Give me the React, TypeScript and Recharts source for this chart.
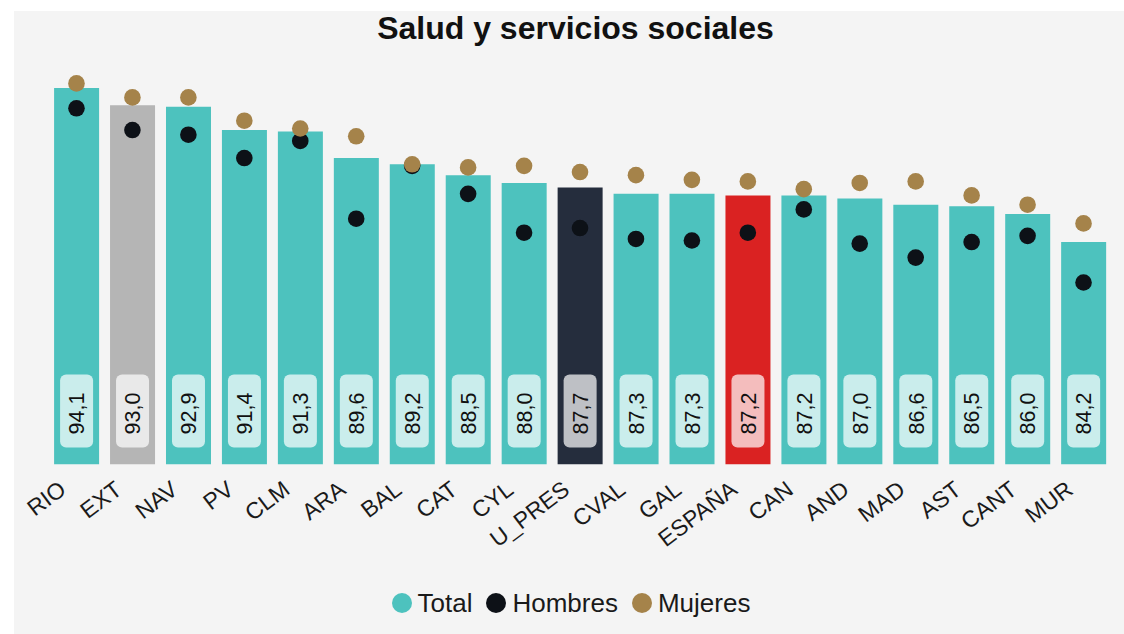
import React from 'react';
import { ComposedChart, Bar, Line, XAxis, YAxis, Cell, LabelList, Legend } from 'recharts';

const categories = ['RIO', 'EXT', 'NAV', 'PV', 'CLM', 'ARA', 'BAL', 'CAT', 'CYL', 'U_PRES', 'CVAL', 'GAL', 'ESPAÑA', 'CAN', 'AND', 'MAD', 'AST', 'CANT', 'MUR'];
const totalValues = [94.1, 93.0, 92.9, 91.4, 91.3, 89.6, 89.2, 88.5, 88.0, 87.7, 87.3, 87.3, 87.2, 87.2, 87.0, 86.6, 86.5, 86.0, 84.2];
const hombresValues = [92.8, 91.4, 91.1, 89.6, 90.7, 85.7, 89.1, 87.3, 84.8, 85.1, 84.4, 84.3, 84.8, 86.3, 84.1, 83.2, 84.2, 84.6, 81.6];
const mujeresValues = [94.4, 93.5, 93.5, 92.0, 91.5, 91.0, 89.2, 89.0, 89.1, 88.7, 88.5, 88.2, 88.1, 87.6, 88.0, 88.1, 87.2, 86.6, 85.4];
const seriesNames = ['Total', 'Hombres', 'Mujeres'];
const title = 'Salud y servicios sociales';

const FONT = '"Liberation Sans", Arial, sans-serif';
const TEAL = '#4dc2be';
const BLACK = '#0d1117';
const GOLD = '#a5834a';
const BG = '#f4f4f4';

const barColor = (cat: string) => {
  if (cat === 'EXT') return '#b5b5b5';
  if (cat === 'U_PRES') return '#252d3d';
  if (cat === 'ESPAÑA') return '#da2222';
  return TEAL;
};

const data = categories.map((c, i) => ({
  name: c,
  total: totalValues[i],
  hombres: hombresValues[i],
  mujeres: mujeresValues[i],
}));

const fmt = (v: number) => v.toFixed(1).replace('.', ',');

const ValueLabel = (props: any) => {
  const { x, y, width, height, value } = props;
  const bottom = y + height;
  const cx = x + width / 2;
  const cy = bottom - 51;
  return (
    <g>
      <rect x={x + 6} y={bottom - 90} width={width - 12} height={73} rx={6} ry={6} fill="rgba(255,255,255,0.7)" />
      <text
        x={cx}
        y={cy}
        transform={`rotate(-90, ${cx}, ${cy})`}
        textAnchor="middle"
        dy="0.36em"
        fontSize={21.5}
        fontFamily={FONT}
        fill="#111"
      >
        {fmt(Number(value))}
      </text>
    </g>
  );
};

const XTick = (props: any) => {
  const { x, y, payload } = props;
  const tx = x - 9;
  const ty = y + 20;
  return (
    <text
      x={tx}
      y={ty}
      transform={`rotate(-37, ${tx}, ${ty})`}
      textAnchor="end"
      fontSize={23}
      fontFamily={FONT}
      fill="#1a1a1a"
    >
      {payload.value}
    </text>
  );
};

const legendColors = [TEAL, BLACK, GOLD];

const LegendContent = () => (
  <div
    style={{
      height: 30,
      display: 'flex',
      justifyContent: 'center',
      alignItems: 'center',
      fontFamily: FONT,
      fontSize: 26,
      color: '#1a1a1a',
    }}
  >
    {seriesNames.map((n, i) => (
      <div key={n} style={{ display: 'flex', alignItems: 'center', marginRight: i < 2 ? 14 : 0 }}>
        <span
          style={{
            display: 'inline-block',
            width: 20,
            height: 20,
            borderRadius: 10,
            background: legendColors[i],
            marginRight: 6,
          }}
        />
        <span style={{ lineHeight: '30px' }}>{n}</span>
      </div>
    ))}
  </div>
);

export default function App() {
  return (
    <div
      style={{
        position: 'absolute',
        left: 14,
        top: 11,
        width: 1110,
        height: 623,
        background: BG,
        overflow: 'hidden',
      }}
    >
      <div
        style={{
          position: 'absolute',
          left: 0,
          width: 1110,
          boxSizing: 'border-box',
          paddingLeft: 13,
          top: 0,
          textAlign: 'center',
          fontFamily: FONT,
          fontWeight: 'bold',
          fontSize: 32,
          lineHeight: '34px',
          color: '#111',
        }}
      >
        {title}
      </div>
      <ComposedChart
        width={1110}
        height={623}
        data={data}
        margin={{ top: 47.5, right: 12.5, left: 34.5, bottom: 79.5 }}
        barCategoryGap="10%"
      >
        <XAxis dataKey="name" axisLine={false} tickLine={false} height={60} interval={0} tick={<XTick />} />
        <YAxis hide domain={[69.9, 96]} allowDataOverflow type="number" />
        <Legend
          verticalAlign="bottom"
          content={<LegendContent />}
          wrapperStyle={{ position: 'absolute', top: 577, bottom: 'auto', left: 0, width: 1114, height: 30 }}
        />
        <Bar dataKey="total" name="Total" isAnimationActive={false} fill={TEAL}>
          {data.map((d) => (
            <Cell key={d.name} fill={barColor(d.name)} />
          ))}
          <LabelList dataKey="total" content={<ValueLabel />} />
        </Bar>
        <Line
          dataKey="hombres"
          name="Hombres"
          stroke="none"
          strokeWidth={0}
          isAnimationActive={false}
          dot={{ r: 8.3, fill: BLACK, stroke: 'none' }}
          activeDot={false}
        />
        <Line
          dataKey="mujeres"
          name="Mujeres"
          stroke="none"
          strokeWidth={0}
          isAnimationActive={false}
          dot={{ r: 8.3, fill: GOLD, stroke: 'none' }}
          activeDot={false}
        />
      </ComposedChart>
    </div>
  );
}
